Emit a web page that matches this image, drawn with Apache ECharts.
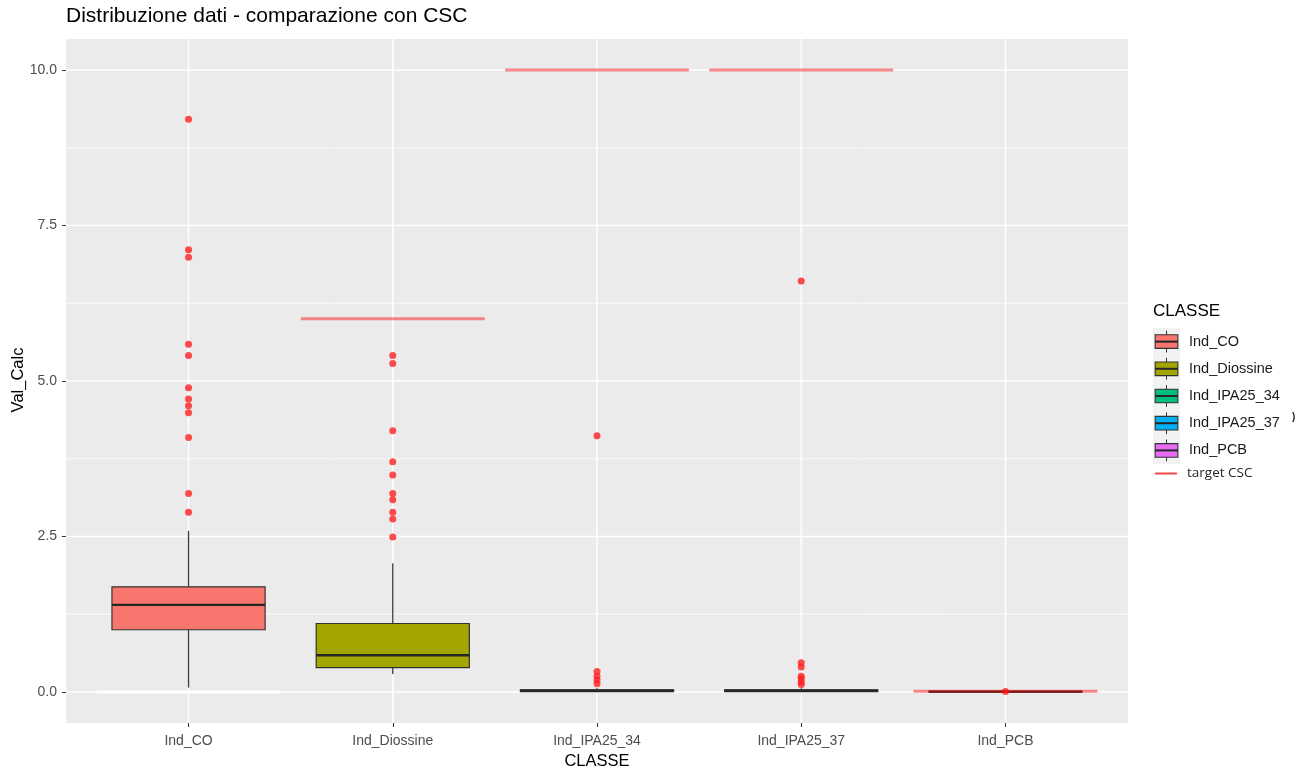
<!DOCTYPE html>
<html>
<head>
<meta charset="utf-8">
<script src="https://cdn.jsdelivr.net/npm/echarts@6.0.0/dist/echarts.min.js"></script>
<style>
  html, body { margin: 0; padding: 0; background: #ffffff; }
  #chart { width: 1312px; height: 771px; }
</style>
</head>
<body>
<div id="chart"></div>
<script>
// ---- data ----
const categories = ['Ind_CO', 'Ind_Diossine', 'Ind_IPA25_34', 'Ind_IPA25_37', 'Ind_PCB'];
// box statistics per class: [lower whisker, Q1, median, Q3, upper whisker]
const statsCO        = [0.07, 1.00, 1.40, 1.69, 2.59];
const statsDiossine  = [0.29, 0.39, 0.59, 1.10, 2.07];
const statsIPA25_34  = [0.00, 0.005, 0.02, 0.035, 0.06];
const statsIPA25_37  = [0.00, 0.005, 0.02, 0.035, 0.06];
const statsPCB       = [0.00, 0.000, 0.004, 0.008, 0.012];
// outlying observations per class
const outliersCO       = [9.21, 7.11, 6.99, 5.59, 5.41, 4.89, 4.71, 4.60, 4.49, 4.09, 3.19, 2.89];
const outliersDiossine = [5.41, 5.28, 4.20, 3.70, 3.49, 3.19, 3.09, 2.89, 2.78, 2.49];
const outliersIPA25_34 = [4.12, 0.33, 0.25, 0.19, 0.13];
const outliersIPA25_37 = [6.61, 0.47, 0.40, 0.25, 0.21, 0.16, 0.12];
const outliersPCB      = [0.005];
// CSC target per class
const targetCSC = [0, 6, 10, 10, 0.01];
// y axis ticks
const yTicks = [0, 2.5, 5, 7.5, 10];
const yMinorTicks = [1.25, 3.75, 6.25, 8.75];

// ---- styling ----
const FONT = '"Liberation Sans", Arial, sans-serif';
const fills = ['#F8766D', '#A3A500', '#00BF7D', '#00B0F6', '#E76BF3'];
const targetStroke = ['#FFFFFF', 'rgba(255,0,0,0.45)', 'rgba(255,0,0,0.45)', 'rgba(255,0,0,0.45)', 'rgba(255,0,0,0.45)'];
const BOX_WIDTH = 0.75;
const TARGET_WIDTH = 0.9;

const allStats = [statsCO, statsDiossine, statsIPA25_34, statsIPA25_37, statsPCB];
const allOutliers = [outliersCO, outliersDiossine, outliersIPA25_34, outliersIPA25_37, outliersPCB];

const boxData = allStats.map((s, i) => [i].concat(s));
const outlierData = [];
allOutliers.forEach((arr, i) => arr.forEach(v => outlierData.push([i, v])));
const targetData = targetCSC.map((v, i) => [i, v]);
const hGridData = yTicks.map(v => [0, v, 1.5]).concat(yMinorTicks.map(v => [0, v, 0.8]));
const vGridData = categories.map((c, i) => [i, 0]);

function renderHGrid(params, api) {
  const cs = params.coordSys;
  const y = api.coord([0, api.value(1)])[1];
  return {
    type: 'line', silent: true,
    shape: { x1: cs.x, y1: y, x2: cs.x + cs.width, y2: y },
    style: { stroke: '#FFFFFF', lineWidth: api.value(2) }
  };
}
function renderVGrid(params, api) {
  const cs = params.coordSys;
  const x = api.coord([api.value(0), 0])[0];
  return {
    type: 'line', silent: true,
    shape: { x1: x, y1: cs.y, x2: x, y2: cs.y + cs.height },
    style: { stroke: '#FFFFFF', lineWidth: 1.5 }
  };
}
function renderBox(params, api) {
  const i = api.value(0);
  const lo = api.coord([i, api.value(1)]);
  const q1 = api.coord([i, api.value(2)]);
  const med = api.coord([i, api.value(3)]);
  const q3 = api.coord([i, api.value(4)]);
  const hi = api.coord([i, api.value(5)]);
  const half = api.size([BOX_WIDTH, 0])[0] / 2;
  const x = lo[0];
  const edge = { stroke: '#333333', lineWidth: 1.2 };
  return {
    type: 'group',
    children: [
      { type: 'line', shape: { x1: x, y1: hi[1], x2: x, y2: q3[1] }, style: { stroke: '#3A3A3A', lineWidth: 1.3 } },
      { type: 'line', shape: { x1: x, y1: q1[1], x2: x, y2: lo[1] }, style: { stroke: '#3A3A3A', lineWidth: 1.3 } },
      { type: 'rect', shape: { x: x - half, y: q3[1], width: 2 * half, height: Math.max(q1[1] - q3[1], 0.5) },
        style: Object.assign({ fill: fills[i] }, edge) },
      { type: 'line', shape: { x1: x - half, y1: med[1], x2: x + half, y2: med[1] }, style: { stroke: '#262626', lineWidth: 2.4 } }
    ]
  };
}
function renderTarget(params, api) {
  const i = api.value(0);
  const p = api.coord([i, api.value(1)]);
  const half = api.size([TARGET_WIDTH, 0])[0] / 2;
  return {
    type: 'line',
    shape: { x1: p[0] - half, y1: p[1], x2: p[0] + half, y2: p[1] },
    style: { stroke: targetStroke[i], lineWidth: 3 }
  };
}

// legend drawn as ggplot-style keys, plus the rotated y axis title
const legendGraphics = [];
const KEY_X = 1153, KEY_Y = 328, KEY_W = 27, KEY_H = 27.2;
legendGraphics.push({ type: 'text', x: 18, y: 380, rotation: Math.PI / 2,
  style: { text: 'Val_Calc', fontSize: 16.5, fontFamily: FONT, fill: '#000000', align: 'center', verticalAlign: 'middle' } });
legendGraphics.push({ type: 'text', x: KEY_X, y: 311,
  style: { text: 'CLASSE', fontSize: 17, fontFamily: FONT, fill: '#000000', verticalAlign: 'middle' } });
legendGraphics.push({ type: 'rect', shape: { x: KEY_X, y: KEY_Y, width: KEY_W, height: KEY_H * categories.length },
  style: { fill: '#F2F2F2' } });
categories.forEach((name, i) => {
  const y0 = KEY_Y + i * KEY_H;
  const cx = KEY_X + KEY_W / 2;
  legendGraphics.push({ type: 'line', shape: { x1: cx, y1: y0 + KEY_H * 0.1, x2: cx, y2: y0 + KEY_H * 0.9 },
    style: { stroke: '#333333', lineWidth: 1 } });
  legendGraphics.push({ type: 'rect', shape: { x: KEY_X + KEY_W * 0.08, y: y0 + KEY_H * 0.25, width: KEY_W * 0.84, height: KEY_H * 0.5 },
    style: { fill: fills[i], stroke: '#333333', lineWidth: 1.1 } });
  legendGraphics.push({ type: 'line', shape: { x1: KEY_X + KEY_W * 0.08, y1: y0 + KEY_H / 2, x2: KEY_X + KEY_W * 0.92, y2: y0 + KEY_H / 2 },
    style: { stroke: '#262626', lineWidth: 2 } });
  legendGraphics.push({ type: 'text', x: 1189, y: y0 + KEY_H / 2,
    style: { text: name, fontSize: 14.5, fontFamily: FONT, fill: '#1A1A1A', verticalAlign: 'middle' } });
});
legendGraphics.push({ type: 'line', shape: { x1: 1155, y1: 473.5, x2: 1177, y2: 473.5 },
  style: { stroke: 'rgba(240,40,40,0.85)', lineWidth: 2 } });
legendGraphics.push({ type: 'text', x: 1187, y: 473,
  style: { text: 'target CSC', fontSize: 13.5, fontFamily: '"Open Sans", sans-serif', fill: '#262626', verticalAlign: 'middle' } });
legendGraphics.push({ type: 'text', x: 1292, y: 417,
  style: { text: ')', fontSize: 10, fontWeight: 'bold', fontFamily: FONT, fill: '#1A1A1A', verticalAlign: 'middle' } });

const chart = echarts.init(document.getElementById('chart'), null, { renderer: 'canvas' });
chart.setOption({
  animation: false,
  backgroundColor: '#FFFFFF',
  title: {
    text: 'Distribuzione dati - comparazione con CSC',
    left: 66, top: 6, padding: 0,
    textStyle: { fontSize: 21, fontWeight: 'normal', color: '#000000', fontFamily: FONT }
  },
  grid: {
    left: 66, right: 184, top: 39, bottom: 48,
    outerBoundsMode: 'none', containLabel: false,
    show: true, backgroundColor: '#EBEBEB', borderWidth: 0
  },
  xAxis: {
    type: 'value', min: -0.6, max: 4.6,
    axisLine: { show: false, onZero: false },
    splitLine: { show: false },
    axisTick: { customValues: [0, 1, 2, 3, 4], length: 4, lineStyle: { color: '#333333', width: 1 } },
    axisLabel: {
      customValues: [0, 1, 2, 3, 4],
      formatter: v => categories[Math.round(v)],
      fontSize: 14, color: '#4D4D4D', margin: 11, fontFamily: FONT
    },
    name: 'CLASSE', nameLocation: 'middle', nameGap: 30,
    nameTextStyle: { fontSize: 16.5, color: '#000000', fontFamily: FONT }
  },
  yAxis: {
    type: 'value', min: -0.5, max: 10.5,
    axisLine: { show: false, onZero: false },
    splitLine: { show: false },
    axisTick: { customValues: yTicks, length: 4, lineStyle: { color: '#333333', width: 1 } },
    axisLabel: {
      customValues: yTicks,
      formatter: v => v.toFixed(1),
      fontSize: 14, color: '#4D4D4D', margin: 9, fontFamily: FONT
    }
  },
  graphic: legendGraphics,
  series: [
    { type: 'custom', name: 'gridH', renderItem: renderHGrid, data: hGridData, encode: { x: 0, y: 1 }, z: 0, silent: true },
    { type: 'custom', name: 'gridV', renderItem: renderVGrid, data: vGridData, encode: { x: 0, y: 1 }, z: 0, silent: true },
    { type: 'custom', name: 'CLASSE', renderItem: renderBox, data: boxData, encode: { x: 0, y: [1, 2, 3, 4, 5] }, z: 2 },
    { type: 'scatter', name: 'outliers', data: outlierData, symbol: 'circle', symbolSize: 7,
      itemStyle: { color: '#FF2020' }, z: 3 },
    { type: 'custom', name: 'target CSC', renderItem: renderTarget, data: targetData, encode: { x: 0, y: 1 }, z: 4 }
  ]
});
</script>
</body>
</html>
